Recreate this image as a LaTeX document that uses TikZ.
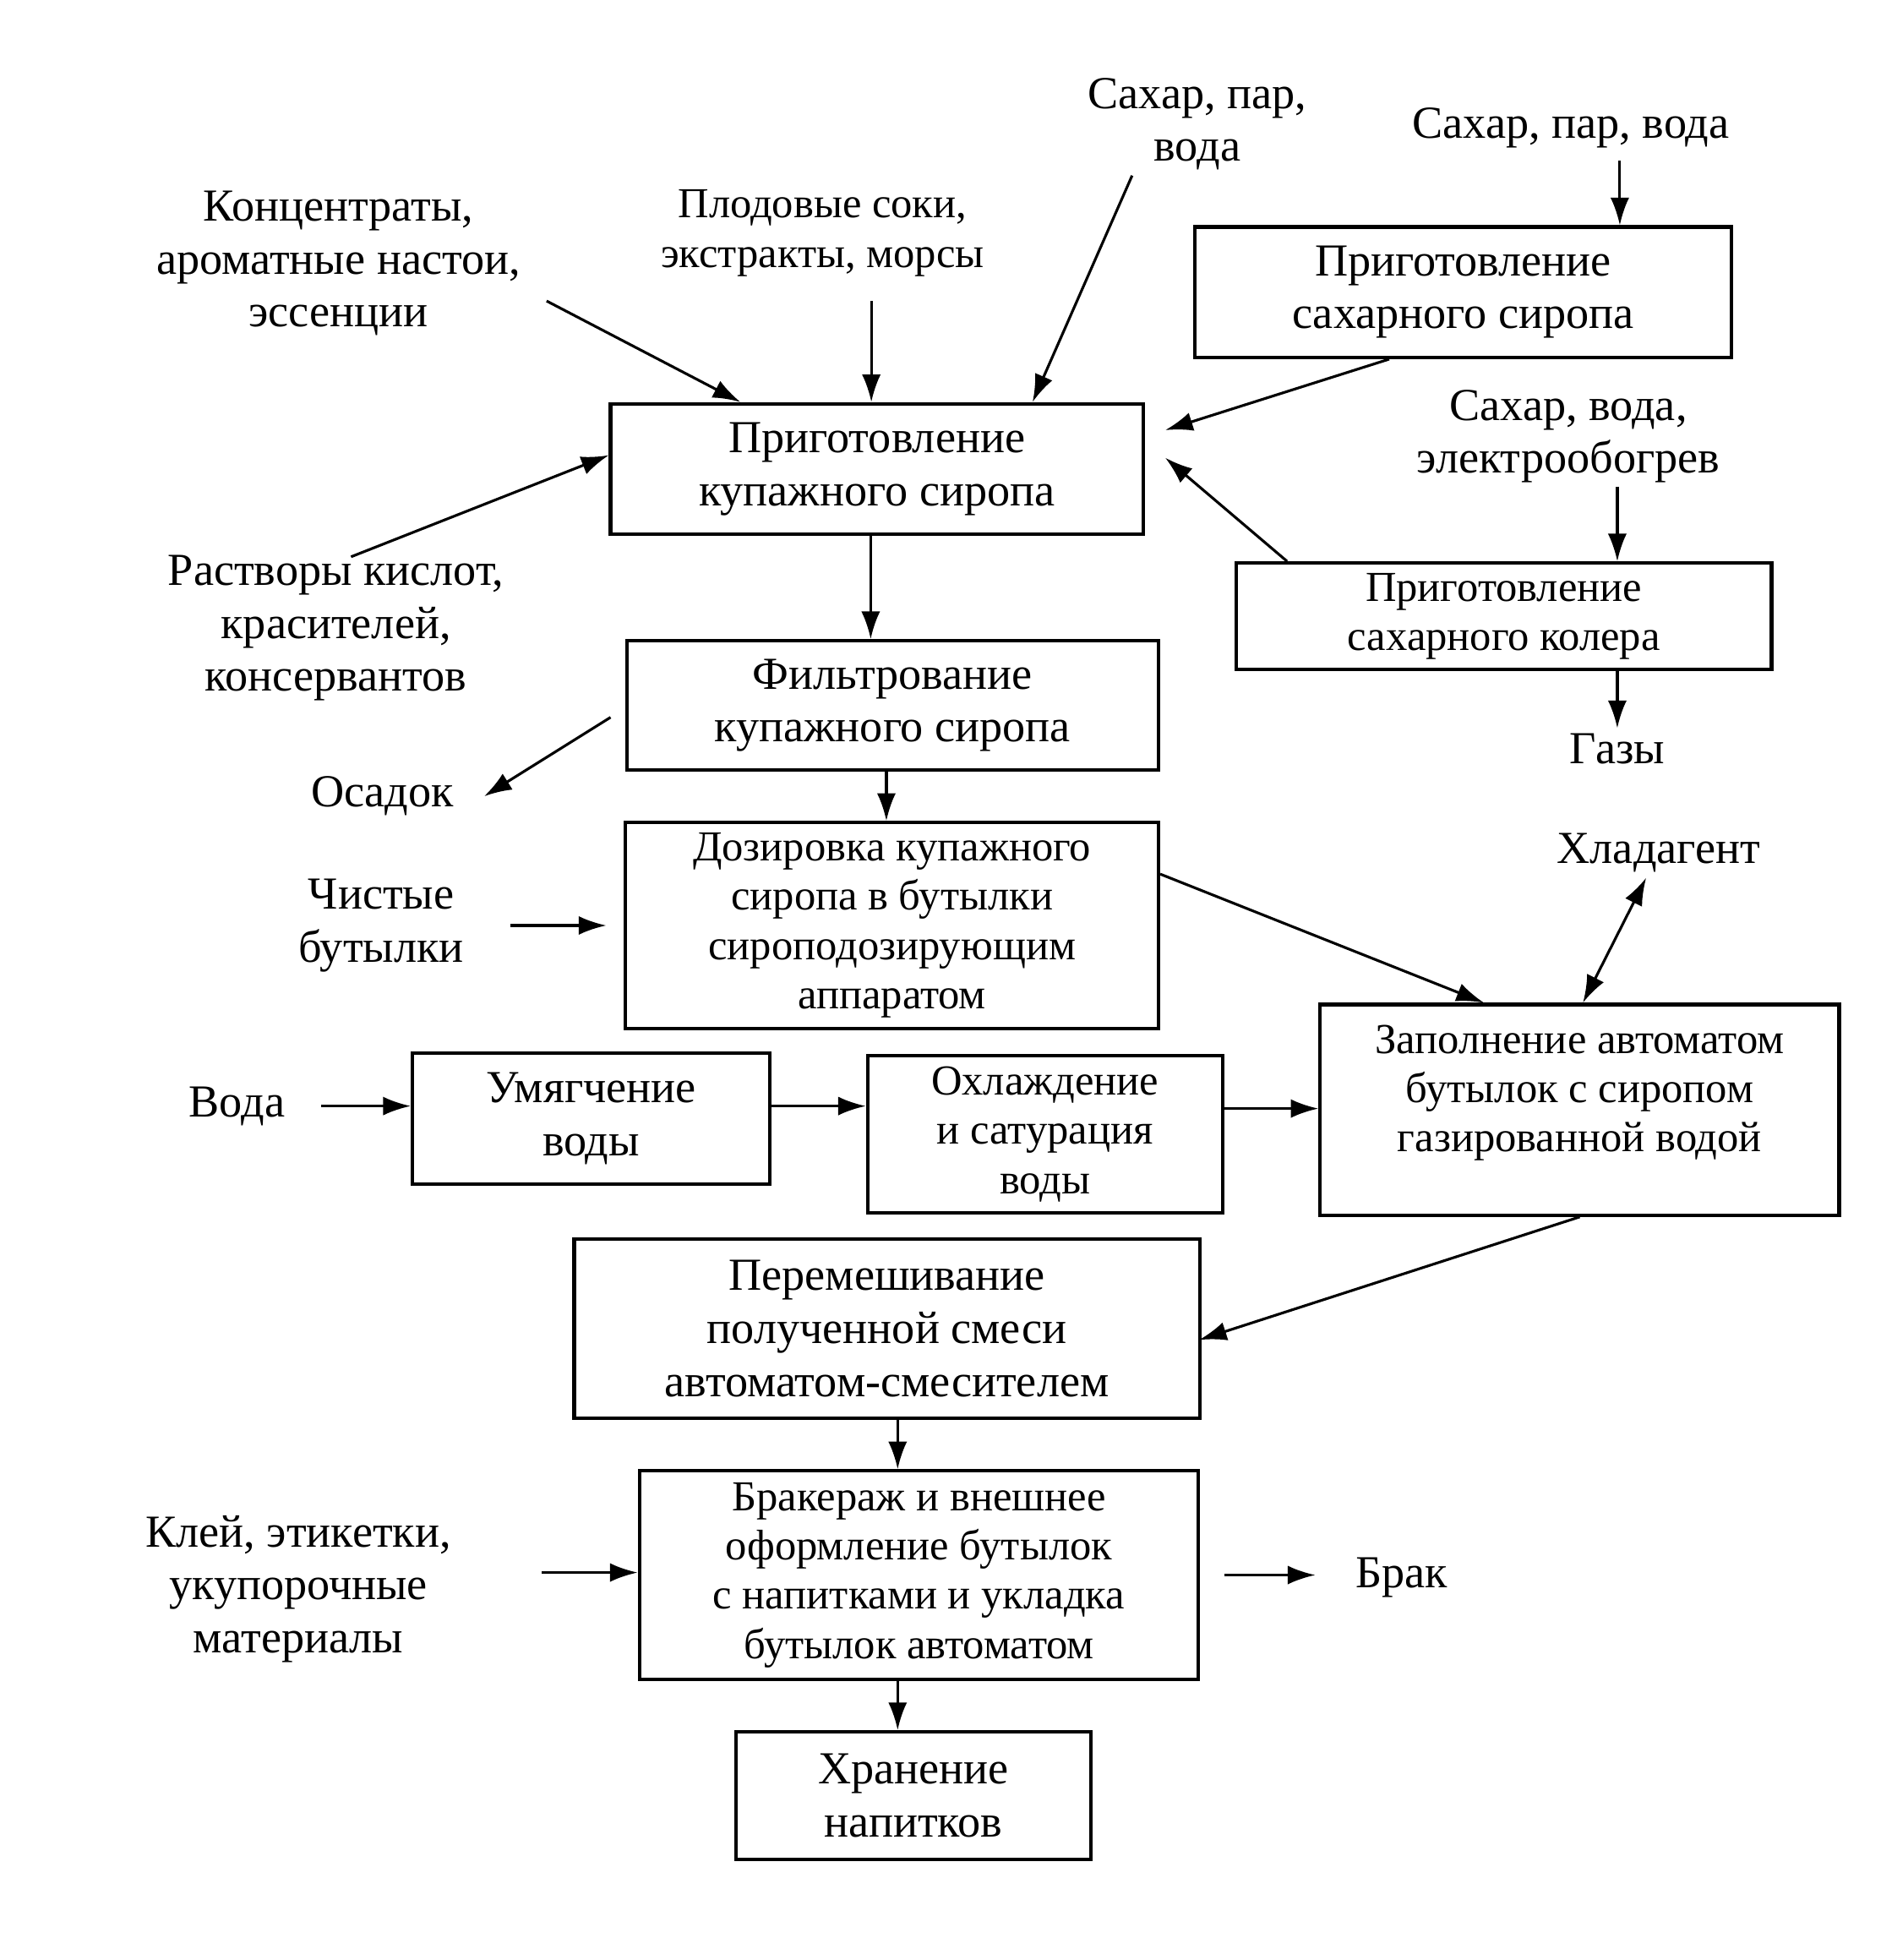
\documentclass[tikz,border=0pt]{standalone}
\usepackage{fontspec}
\setmainfont{Liberation Serif}
\usetikzlibrary{arrows.meta}
\newcommand\fbig{\fontsize{10.4}{12}\selectfont}
\newcommand\fsmall{\fontsize{9.7}{11.2}\selectfont}
\begin{document}
\begin{tikzpicture}
  [box/.style={draw,line width=0.8pt,inner sep=1pt,align=center},
   lbl/.style={inner sep=1pt,align=center,font=\fbig},
   arr/.style={line width=0.6pt,-{Latex[length=2.2mm,width=1.5mm]}}]
  \useasboundingbox (0,0) rectangle (15,-15.63);
  % boxes
  \node[box,font=\fbig,minimum width=4.28cm,minimum height=1.04cm] (sug) at (11.67,-2.33) {Приготовление\\сахарного сиропа};
  \node[box,font=\fbig,minimum width=4.25cm,minimum height=1.04cm] (kup) at (6.995,-3.74) {Приготовление\\купажного сиропа};
  \node[box,font=\fsmall,minimum width=4.27cm,minimum height=0.85cm,inner sep=0pt] (kol) at (11.995,-4.915) {Приготовление\\сахарного колера};
  \node[box,font=\fbig,minimum width=4.24cm,minimum height=1.03cm] (fil) at (7.12,-5.625) {Фильтрование\\купажного сиропа};
  \node[box,font=\fsmall,minimum width=4.25cm,minimum height=1.64cm] (dos) at (7.115,-7.38) {Дозировка купажного\\сиропа в бутылки\\сироподозирующим\\аппаратом};
  \node[box,font=\fbig,minimum width=2.85cm,minimum height=1.04cm] (soft) at (4.715,-8.92) {Умягчение\\воды};
  \node[box,font=\fsmall,minimum width=2.83cm,minimum height=1.25cm] (cool) at (8.335,-9.045) {Охлаждение\\и сатурация\\воды};
  \node[box,font=\fsmall,minimum width=4.14cm,minimum height=1.68cm] (fill) at (12.60,-8.85) {Заполнение автоматом\\бутылок с сиропом\\газированной водой\\[-1.5pt]\mbox{}};
  \node[box,font=\fbig,minimum width=4.99cm,minimum height=1.43cm] (mix) at (7.075,-10.595) {Перемешивание\\полученной смеси\\автоматом-смесителем};
  \node[box,font=\fsmall,minimum width=4.46cm,minimum height=1.66cm] (brak) at (7.33,-12.56) {Бракераж и внешнее\\оформление бутылок\\с напитками и укладка\\бутылок автоматом};
  \node[box,font=\fbig,minimum width=2.83cm,minimum height=1.02cm] (stor) at (7.285,-14.32) {Хранение\\напитков};
  % labels
  \node[lbl] (spv1) at (9.55,-0.99) {Сахар, пар,\\вода};
  \node[lbl] (spv2) at (12.53,-1.02) {Сахар, пар, вода};
  \node[lbl] (conc) at (2.70,-2.10) {Концентраты,\\ароматные настои,\\эссенции};
  \node[lbl,font=\fsmall] (soki) at (6.56,-1.86) {Плодовые соки,\\экстракты, морсы};
  \node[lbl] (rastv) at (2.68,-5.01) {Растворы кислот,\\красителей,\\консервантов};
  \node[lbl] (sve) at (12.51,-3.48) {Сахар, вода,\\электрообогрев};
  \node[lbl] (gaz) at (12.90,-5.97) {Газы};
  \node[lbl] (osad) at (3.05,-6.35) {Осадок};
  \node[lbl] (chist) at (3.04,-7.38) {Чистые\\бутылки};
  \node[lbl] (hlad) at (13.23,-6.80) {Хладагент};
  \node[lbl] (voda) at (1.89,-8.82) {Вода};
  \node[lbl] (klei) at (2.38,-12.67) {Клей, этикетки,\\укупорочные\\материалы};
  \node[lbl] (brakl) at (11.18,-12.58) {Брак};
  % free ends
  \coordinate (c1) at (4.36,-2.40);
  \coordinate (c2) at (6.95,-2.40);
  \coordinate (c3) at (9.03,-1.40);
  \coordinate (c4) at (12.92,-1.28);
  \coordinate (c5) at (12.90,-3.88);
  \coordinate (c7) at (2.80,-4.44);
  \coordinate (c8) at (4.87,-5.72);
  \coordinate (c9) at (4.07,-7.38);
  \coordinate (c10) at (13.13,-7.00);
  \coordinate (c11) at (4.32,-12.54);
  % arrows
  \draw[arr] (c1) -- ([xshift=1.05cm]kup.north west);
  \draw[arr] (c2) -- (c2 |- kup.north);
  \draw[arr] (c3) -- ([xshift=3.38cm]kup.north west);
  \draw[arr] (c4) -- (c4 |- sug.north);
  \draw[arr] ([xshift=-0.59cm]sug.south) -- ([xshift=0.16cm,yshift=0.31cm]kup.east);
  \draw[arr] ([xshift=0.42cm]kol.north west) -- ([xshift=0.16cm,yshift=0.09cm]kup.east);
  \draw[arr] (c5) -- (c5 |- kol.north);
  \draw[arr] (gaz.north |- kol.south) -- (gaz.north);
  \draw[arr] (c7) -- ([yshift=0.11cm]kup.west);
  \draw[arr] (c8) -- ([xshift=0.2cm]osad.east);
  \foreach \from/\to in {kup/fil,fil/dos}
    \draw[arr] ([xshift=-0.05cm]\from.south) -- ([xshift=-0.05cm]\from.south |- \to.north);
  \draw[arr] (c9) -- ([xshift=-0.14cm]dos.west);
  \draw[arr] ([yshift=0.41cm]dos.east) -- ([xshift=1.32cm]fill.north west);
  \draw[{Latex[length=2.2mm,width=1.5mm]}-{Latex[length=2.2mm,width=1.5mm]},line width=0.6pt] (c10) -- ([xshift=2.11cm]fill.north west);
  \draw[arr] ([xshift=0.25cm]voda.east) -- (voda.east -| soft.west);
  \draw[arr] ([yshift=0.1cm]soft.east) -- ([yshift=0.1cm]soft.east -| cool.west);
  \draw[arr] ([yshift=0.205cm]cool.east) -- ([yshift=0.205cm]cool.east -| fill.west);
  \draw[arr] (fill.south) -- ([xshift=-0.02cm,yshift=-0.09cm]mix.east);
  \draw[arr] ([xshift=0.085cm]mix.south) -- ([xshift=0.085cm]mix.south |- brak.north);
  \draw[arr] (c11) -- (c11 -| brak.west);
  \draw[arr] ([xshift=0.19cm]brak.east) -- ([xshift=-0.28cm]brak.east -| brakl.west);
  \draw[arr] ([xshift=-0.17cm]brak.south) -- ([xshift=-0.17cm]brak.south |- stor.north);
\end{tikzpicture}
\end{document}
